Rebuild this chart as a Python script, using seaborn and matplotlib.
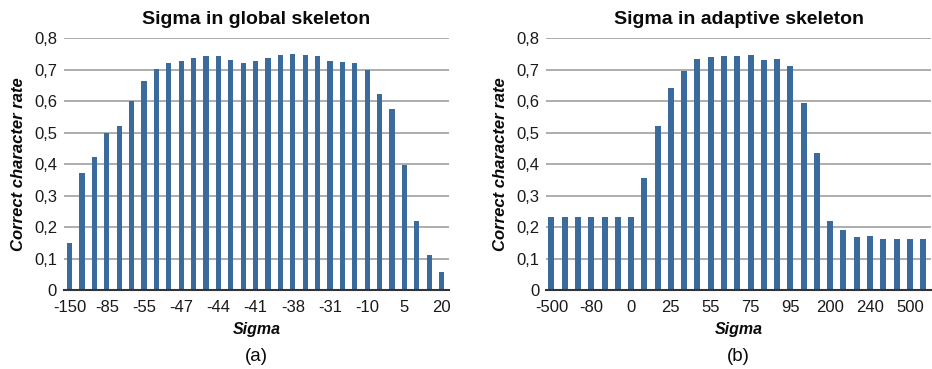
import matplotlib
matplotlib.use("Agg")
import matplotlib.pyplot as plt
import seaborn as sns
import numpy as np
import pandas as pd

# ---- data ----
global_rate = [0.148, 0.370, 0.423, 0.498, 0.520, 0.600, 0.665, 0.703, 0.720, 0.727,
               0.738, 0.742, 0.742, 0.731, 0.722, 0.727, 0.736, 0.745, 0.749, 0.747,
               0.742, 0.727, 0.725, 0.722, 0.699, 0.623, 0.576, 0.397, 0.220, 0.112,
               0.057]
global_ticklabels = ["-150", "-85", "-55", "-47", "-44", "-41", "-38", "-31", "-10", "5", "20"]

adaptive_rate = [0.232, 0.232, 0.232, 0.232, 0.232, 0.232, 0.232, 0.355, 0.520, 0.641,
                 0.696, 0.733, 0.740, 0.742, 0.742, 0.745, 0.729, 0.733, 0.710, 0.594,
                 0.435, 0.220, 0.192, 0.168, 0.170, 0.162, 0.162, 0.162, 0.162]
adaptive_ticklabels = ["-500", "-80", "0", "25", "55", "75", "95", "200", "240", "500"]

titles = ["Sigma in global skeleton", "Sigma in adaptive skeleton"]
panel_tags = ["(a)", "(b)"]
yticks = [0, 0.1, 0.2, 0.3, 0.4, 0.5, 0.6, 0.7, 0.8]
ytick_labels = ["0", "0,1", "0,2", "0,3", "0,4", "0,5", "0,6", "0,7", "0,8"]

sns.set_theme(style="white")
plt.rcParams['font.family'] = ['Liberation Sans', 'DejaVu Sans']
plt.rcParams['text.color'] = '#0a0a0a'
plt.rcParams['axes.labelcolor'] = '#0a0a0a'

BAR = "#3b6a9c"
fig = plt.figure(figsize=(9.32, 3.69), dpi=100)
axes = [fig.add_axes([0.0687, 0.214, 0.4131, 0.683]),
        fig.add_axes([0.586, 0.214, 0.413, 0.683])]

datasets = [(global_rate, global_ticklabels, 0.42, (-0.45, 30.6)),
            (adaptive_rate, adaptive_ticklabels, 0.45, (-0.4, 28.6))]

for ax, (vals, tlabels, w, xl), title, tag in zip(axes, datasets, titles, panel_tags):
    df = pd.DataFrame({"pos": np.arange(len(vals)), "rate": vals})
    sns.barplot(data=df, x="pos", y="rate", ax=ax, color=BAR, saturation=1,
                width=w, edgecolor="none", zorder=3)
    ax.set_xlim(*xl)
    ax.set_ylim(0, 0.8)
    ax.set_yticks(yticks)
    ax.set_yticklabels(ytick_labels, fontsize=12, color="#1a1a1a")
    tick_pos = list(range(0, len(vals), 3))
    ax.set_xticks(tick_pos)
    ax.set_xticklabels(tlabels, fontsize=12, color="#1a1a1a")
    ax.tick_params(axis="y", length=0, pad=5)
    ax.tick_params(axis="x", length=0, pad=7)
    ax.yaxis.grid(True, color="#adadad", linewidth=1.4, zorder=0)
    ax.xaxis.grid(False)
    for s in ["top", "right", "left"]:
        ax.spines[s].set_visible(False)
    ax.spines["bottom"].set_color("#333333")
    ax.spines["bottom"].set_linewidth(1.5)
    ax.spines["bottom"].set_zorder(4)
    ax.set_title(title, fontsize=14, fontweight="bold", pad=10, color="#0a0a0a")
    ax.set_xlabel("Sigma", fontsize=11.5, fontweight="bold", style="italic", labelpad=5)
    ax.set_ylabel("Correct character rate", fontsize=12, fontweight="bold",
                  style="italic", labelpad=6)
    ax.text(0.5, -0.265, tag, transform=ax.transAxes, ha="center", va="center",
            fontsize=13.5)

fig.savefig("out.png", dpi=100, facecolor="white")
